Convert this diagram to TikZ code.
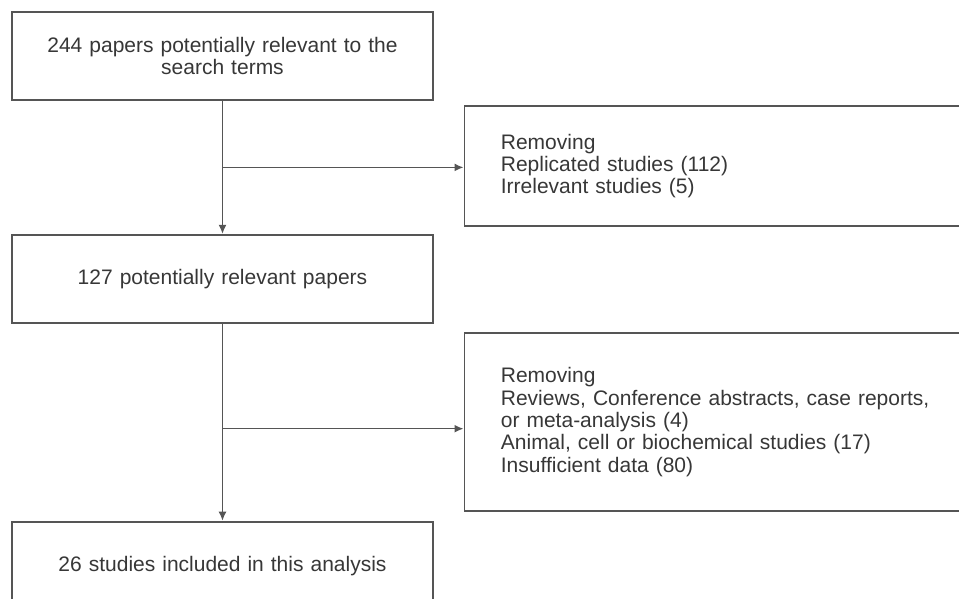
\documentclass[tikz,border=0pt]{standalone}
\usepackage{fontspec}
\setmainfont{Liberation Sans}
\usepackage{tikz}
\usetikzlibrary{arrows.meta,positioning,calc}
\definecolor{linegray}{RGB}{85,85,85}
\definecolor{textgray}{RGB}{55,55,55}

\begin{document}
\begin{tikzpicture}[
  node distance=66.5pt,
  every node/.style={font=\fontsize{10.5}{11.2}\selectfont,text=textgray},
  stage/.style={draw=linegray,line width=0.9pt,minimum width=210.5pt,minimum height=44pt,align=center,text width=190pt},
  removed/.style={draw=linegray,line width=0.9pt,align=left,text width=240pt,inner xsep=18.25pt,anchor=west},
  flow/.style={draw=linegray,line width=0.75pt,-{Latex[length=4.5pt,width=4pt]}},
]
  \useasboundingbox (0,0) rectangle (479.5pt,-299.5pt);
  \node[stage] (papers) at (111.25pt,-28pt) {244 papers potentially relevant to the\\search terms};
  \node[stage,below=of papers] (relevant) {127 potentially relevant papers};
  \node[stage,below=98.5pt of relevant] (included) {26 studies included in this analysis};
  \node[removed,minimum height=60pt] (rem1) at (231.75pt,-83pt) {Removing\\Replicated studies (112)\\Irrelevant studies (5)};
  \node[removed,minimum height=89pt] (rem2) at (231.75pt,-211pt) {Removing\\Reviews, Conference abstracts, case reports,\\or meta-analysis (4)\\Animal, cell or biochemical studies (17)\\Insufficient data (80)};
  \coordinate (j1) at ($(papers.south)!0.5!(relevant.north)$);
  \coordinate (j2) at ($(relevant.south)!0.533!(included.north)$);
  \draw[flow] (papers) -- (relevant);
  \draw[flow] (j1) -- (j1 -| rem1.west);
  \draw[flow] (relevant) -- (included);
  \draw[flow] (j2) -- (j2 -| rem2.west);
\end{tikzpicture}
\end{document}
